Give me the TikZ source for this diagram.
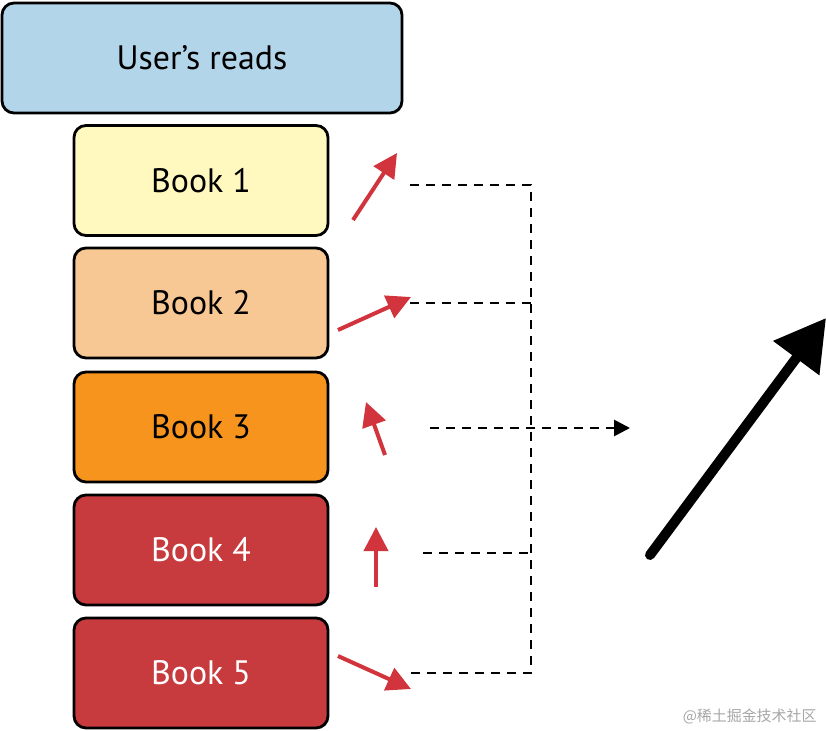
\documentclass[tikz,border=0pt]{standalone}
\usepackage{fontspec}
\setmainfont{PT Sans}
\newfontfamily\cjk{Noto Sans CJK SC}
\usetikzlibrary{arrows.meta}
\definecolor{ublue}{HTML}{B3D5EA}
\definecolor{b1}{HTML}{FFF8BF}
\definecolor{b2}{HTML}{F8C894}
\definecolor{b3}{HTML}{F7941D}
\definecolor{b4}{HTML}{C73B3F}
\definecolor{ared}{HTML}{D1343C}
\begin{document}
\begin{tikzpicture}[x=1bp,y=-1bp,
 box/.style={draw=black,line width=2.8bp,rounded corners=12bp,minimum width=254bp,minimum height=110bp,font=\fontsize{34}{36}\selectfont,inner sep=0pt},
 rarr/.style={draw=ared,line width=4bp,-{Triangle[length=24bp,width=24bp]}},
 dashln/.style={draw=black,line width=2.8bp,dash pattern=on 9bp off 7bp}]
\useasboundingbox (0,0) rectangle (826,731);
\node[box,fill=ublue,minimum width=400bp] (u) at (202,58) {User’s reads};
\node[box,fill=b1] (k1) at (201,180.5) {Book 1};
\node[box,fill=b2] (k2) at (201,303) {Book 2};
\node[box,fill=b3] (k3) at (201,427) {Book 3};
\node[box,fill=b4,text=white] (k4) at (201,550) {Book 4};
\node[box,fill=b4,text=white] (k5) at (201,673) {Book 5};
\coordinate (a1s) at (353,220); \coordinate (a1e) at (397,153);
\coordinate (a2s) at (338,330); \coordinate (a2e) at (411,297);
\coordinate (a3s) at (385,455); \coordinate (a3e) at (366,402);
\coordinate (a4s) at (376,587); \coordinate (a4e) at (376,527);
\coordinate (a5s) at (338,656); \coordinate (a5e) at (411,689);
\draw[rarr] (a1s) -- (a1e);
\draw[rarr] (a2s) -- (a2e);
\draw[rarr] (a3s) -- (a3e);
\draw[rarr] (a4s) -- (a4e);
\draw[rarr] (a5s) -- (a5e);
\coordinate (d1) at (410,185); \coordinate (v1) at (531,185);
\coordinate (d2) at (410,303); \coordinate (v2) at (531,303);
\coordinate (d3) at (430,428); \coordinate (e3) at (630,428);
\coordinate (d4) at (423,553); \coordinate (v4) at (531,553);
\coordinate (d5) at (410,673); \coordinate (v5) at (531,673);
\draw[dashln] (d1) -- (v1) -- (v5) -- (d5);
\draw[dashln] (d2) -- (v2);
\draw[dashln] (d4) -- (v4);
\draw[dashln,-{Triangle[length=16bp,width=16bp]}] (d3) -- (e3);
\coordinate (bs) at (650,555); \coordinate (be) at (826,318);
\draw[line width=10bp,line cap=round,-{Triangle[length=50bp,width=55bp]}] (bs) -- (be);
\node[anchor=east,text=gray!70,font=\cjk\fontsize{15}{16}\selectfont] (wm) at (820,716) {@稀土掘金技术社区};
\end{tikzpicture}
\end{document}
